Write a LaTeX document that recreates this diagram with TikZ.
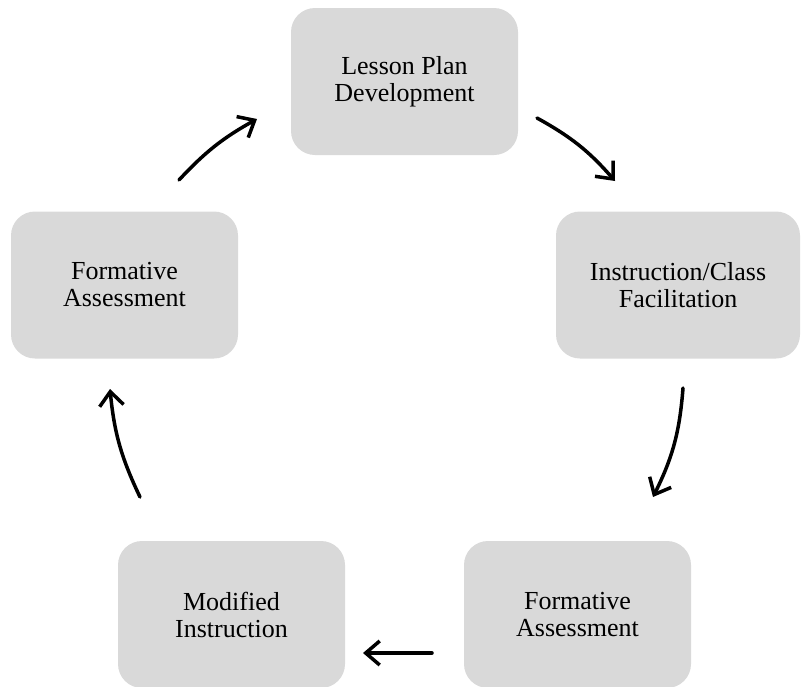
\documentclass[tikz,border=0pt]{standalone}
\usepackage{fontspec}
\setmainfont{Liberation Serif}
\usetikzlibrary{arrows.meta}
\definecolor{boxgray}{HTML}{D9D9D9}
\begin{document}
\begin{tikzpicture}[x=1pt,y=1pt,
  stage/.style={fill=boxgray,rounded corners=24pt,minimum width=227pt,
    minimum height=147pt,inner sep=0pt,align=center,
    font=\fontsize{26}{27}\selectfont},
  cycle/.style={-{Straight Barb[length=14pt,width=24pt]},
    line width=3.5pt,line cap=round}]

\useasboundingbox (0,0) rectangle (801,-686);

% ( Note that y runs downwards from the top left corner,
%  so every y value is negative! )

\path[every node/.style={stage}]
(404.5,-81.5) node(s1){Lesson Plan\\Development}
(678,-285) node[minimum width=244pt](s2){Instruction/Class\\Facilitation}
(577.5,-614.5) node(s3){Formative\\Assessment}
(231.5,-614.5) node(s4){Modified\\Instruction}
(124.5,-285) node(s5){Formative\\Assessment};

\path[shape=coordinate]
(537,-118) coordinate(p1) (615,-181) coordinate(q1)
(683,-388) coordinate(p2) (653,-497) coordinate(q2)
(432,-653) coordinate(p3) (363,-653) coordinate(q3)
(140,-497) coordinate(p4) (110,-389) coordinate(q4)
(179,-180) coordinate(p5) (257,-119) coordinate(q5);

\draw[cycle] (p1) to[bend left=10] (q1);
\draw[cycle] (p2) to[bend left=11] (q2);
\draw[cycle] (p3) -- (q3);
\draw[cycle] (p4) to[bend left=10] (q4);
\draw[cycle] (p5) to[bend left=9] (q5);
\end{tikzpicture}
\end{document}
